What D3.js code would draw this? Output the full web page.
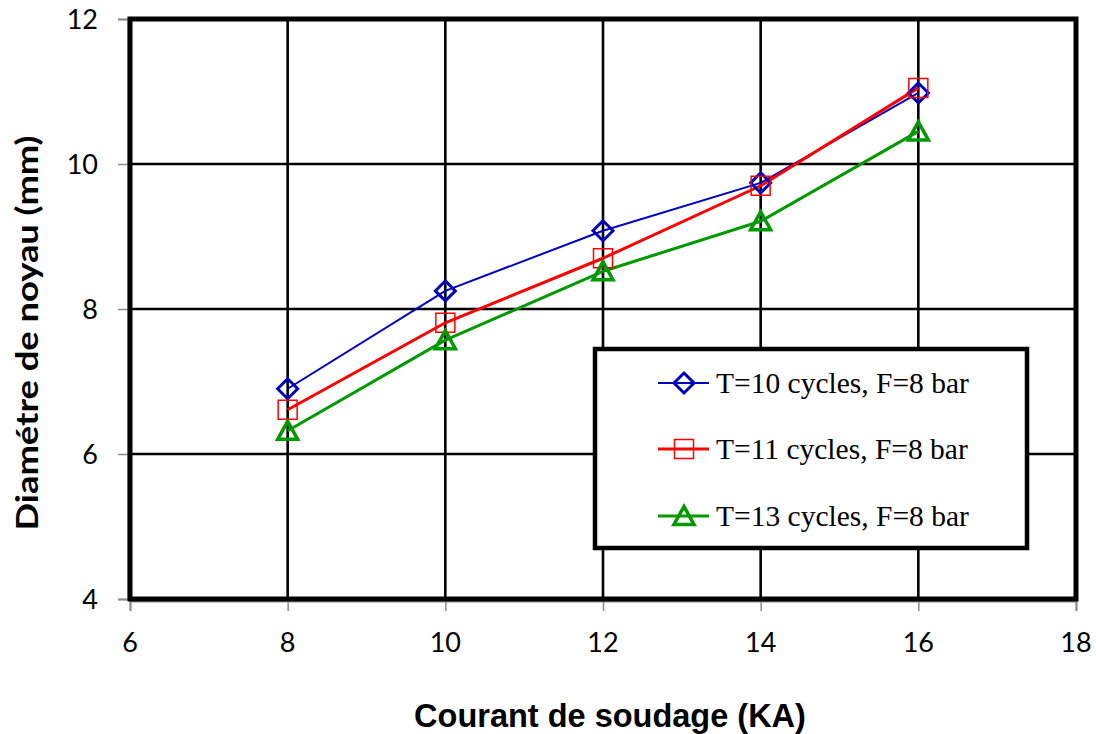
<!DOCTYPE html>
<html>
<head>
<meta charset="utf-8">
<script src="https://cdn.jsdelivr.net/npm/d3@7"></script>
<style>
  html, body { margin: 0; padding: 0; background: #fff; }
  svg { display: block; }
</style>
</head>
<body>
<svg id="chart" width="1096" height="734"></svg>
<script>
// ---- data ----
const current = [8, 10, 12, 14, 16];
const seriesNames = ["T=10 cycles, F=8 bar", "T=11 cycles, F=8 bar", "T=13 cycles, F=8 bar"];
const diamT10 = [6.90, 8.25, 9.08, 9.74, 10.98];
const diamT11 = [6.61, 7.81, 8.70, 9.70, 11.05];
const diamT13 = [6.32, 7.57, 8.52, 9.21, 10.45];
const xTicks = [6, 8, 10, 12, 14, 16, 18];
const yTicks = [4, 6, 8, 10, 12];
const xTitle = "Courant de soudage (KA)";
const yTitle = "Diamétre de noyau (mm)";

const seriesStyle = [
  { color: "#0000c0", width: 2, symbol: "diamond", mw: 3 },
  { color: "#ff0000", width: 3, symbol: "square", mw: 1.5 },
  { color: "#009900", width: 3, symbol: "triangle", mw: 3.5 }
];
const seriesData = [diamT10, diamT11, diamT13];

const svg = d3.select("#chart");
const L = 130, R = 1076, T = 19, B = 599;
const x = d3.scaleLinear().domain([6, 18]).range([L, R]);
const y = d3.scaleLinear().domain([4, 12]).range([B, T]);

svg.append("rect").attr("width", 1096).attr("height", 734).attr("fill", "#fff");

// grid
const grid = svg.append("g");
grid.selectAll("line.v").data(xTicks.slice(1, -1)).join("line")
  .attr("x1", d => x(d)).attr("x2", d => x(d)).attr("y1", T).attr("y2", B)
  .attr("stroke", "#000").attr("stroke-width", 2.6);
grid.selectAll("line.h").data(yTicks.slice(1, -1)).join("line")
  .attr("y1", d => y(d)).attr("y2", d => y(d)).attr("x1", L).attr("x2", R)
  .attr("stroke", "#000").attr("stroke-width", 2.6);

// axes (grey ticks)
const xAxis = d3.axisBottom(x).tickValues(xTicks).tickSize(10).tickFormat("");
const yAxis = d3.axisLeft(y).tickValues(yTicks).tickSize(10).tickFormat("");
const gx = svg.append("g").attr("transform", `translate(0,${B + 2})`).call(xAxis);
const gy = svg.append("g").attr("transform", `translate(${L - 2},0)`).call(yAxis);
[gx, gy].forEach(g => {
  g.selectAll("path").attr("stroke", "#8c8c8c").attr("stroke-width", 2);
  g.selectAll("line").attr("stroke", "#8c8c8c").attr("stroke-width", 1.5);
});

// tick labels
const tickFont = "Lato, 'Open Sans', sans-serif";
svg.append("g").selectAll("text").data(xTicks).join("text")
  .attr("x", d => x(d)).attr("y", 652)
  .attr("text-anchor", "middle")
  .attr("font-family", tickFont).attr("font-size", 27).attr("fill", "#000")
  .text(d => d);
svg.append("g").selectAll("text").data(yTicks).join("text")
  .attr("x", 98).attr("y", d => y(d) + 9.5)
  .attr("text-anchor", "end")
  .attr("font-family", tickFont).attr("font-size", 27).attr("fill", "#000")
  .text(d => d);

// lines
const line = d3.line().x((d, i) => x(current[i])).y(d => y(d));
const symbolPath = (sym) => {
  if (sym === "diamond") return "M0,-10 L10,0 L0,10 L-10,0 Z";
  if (sym === "square") return "M-9.5,-9.5 H9.5 V9.5 H-9.5 Z";
  return "M0,-9.5 L10,8.5 L-10,8.5 Z";
};
seriesData.forEach((vals, s) => {
  const st = seriesStyle[s];
  svg.append("path").datum(vals).attr("d", line)
    .attr("fill", "none").attr("stroke", st.color).attr("stroke-width", st.width)
    .attr("stroke-linejoin", "round");
});
seriesData.forEach((vals, s) => {
  const st = seriesStyle[s];
  svg.append("g").selectAll("path").data(vals).join("path")
    .attr("transform", (d, i) => `translate(${x(current[i])},${y(d)})`)
    .attr("d", symbolPath(st.symbol))
    .attr("fill", "none").attr("stroke", st.color).attr("stroke-width", st.mw)
    .attr("stroke-linejoin", "miter");
});

// plot border
svg.append("rect").attr("x", L).attr("y", T).attr("width", R - L).attr("height", B - T)
  .attr("fill", "none").attr("stroke", "#000").attr("stroke-width", 5);

// legend
const lg = svg.append("g");
lg.append("rect").attr("x", 595).attr("y", 349).attr("width", 432).attr("height", 199)
  .attr("fill", "#fff").attr("stroke", "#000").attr("stroke-width", 4.5);
const rowsY = [383, 449, 516];
seriesNames.forEach((name, s) => {
  const st = seriesStyle[s];
  const ry = rowsY[s];
  lg.append("line").attr("x1", 658).attr("x2", 709).attr("y1", ry).attr("y2", ry)
    .attr("stroke", st.color).attr("stroke-width", st.width);
  lg.append("path").attr("transform", `translate(684,${ry})`).attr("d", symbolPath(st.symbol))
    .attr("fill", "none").attr("stroke", st.color).attr("stroke-width", st.mw);
  lg.append("text").attr("x", 716).attr("y", ry + 10)
    .attr("font-family", "'Liberation Serif', 'Times New Roman', serif")
    .attr("font-size", 29.5).attr("fill", "#000").text(name);
});

// axis titles
svg.append("text").attr("x", 610).attr("y", 727).attr("text-anchor", "middle")
  .attr("font-family", "'Liberation Sans', Arial, sans-serif").attr("font-weight", "bold")
  .attr("font-size", 32.5).attr("fill", "#000").text(xTitle);
svg.append("text").attr("transform", "translate(38,333) rotate(-90)").attr("text-anchor", "middle")
  .attr("font-family", "Lato, 'Open Sans', sans-serif").attr("font-weight", "bold")
  .attr("font-size", 31).attr("textLength", 395).attr("lengthAdjust", "spacingAndGlyphs")
  .attr("fill", "#000").text(yTitle);
</script>
</body>
</html>
